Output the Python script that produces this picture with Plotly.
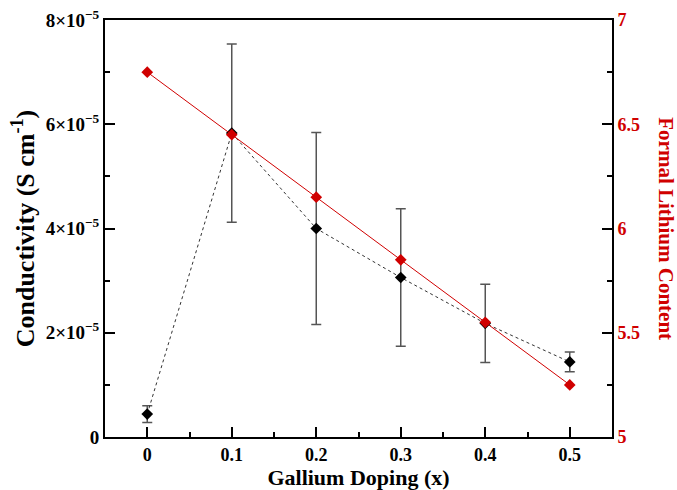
import plotly.graph_objects as go

x_doping = [0, 0.1, 0.2, 0.3, 0.4, 0.5]
conductivity = [0.44e-5, 5.83e-5, 4.0e-5, 3.06e-5, 2.18e-5, 1.44e-5]
conductivity_err = [0.16e-5, 1.71e-5, 1.84e-5, 1.32e-5, 0.75e-5, 0.19e-5]
lithium_content = [6.75, 6.45, 6.15, 5.85, 5.55, 5.25]

y_tickvals = [0, 2e-5, 4e-5, 6e-5, 8e-5]
y_ticktext = ["0", "2×10<sup>−5</sup>", "4×10<sup>−5</sup>", "6×10<sup>−5</sup>", "8×10<sup>−5</sup>"]
x_tickvals = [0, 0.1, 0.2, 0.3, 0.4, 0.5]
x_ticktext = ["0", "0.1", "0.2", "0.3", "0.4", "0.5"]

FONT = "Liberation Serif"
RED = "#d00000"

fig = go.Figure()
fig.add_trace(go.Scatter(
    x=x_doping, y=conductivity, mode="lines+markers",
    line=dict(color="#333333", width=1, dash="dot"),
    marker=dict(symbol="diamond", size=9, color="black"),
    error_y=dict(type="data", array=conductivity_err, visible=True,
                 color="#555555", thickness=1.5, width=5),
    yaxis="y", showlegend=False,
))
fig.add_trace(go.Scatter(
    x=x_doping, y=lithium_content, mode="lines+markers",
    line=dict(color=RED, width=1),
    marker=dict(symbol="diamond", size=9, color=RED),
    yaxis="y2", showlegend=False,
))

fig.update_layout(
    width=677, height=490,
    margin=dict(l=105, r=65, t=20, b=53, autoexpand=False),
    paper_bgcolor="white", plot_bgcolor="white",
    font=dict(family=FONT, color="black"),
    xaxis=dict(
        range=[-0.05, 0.55], tickvals=x_tickvals, ticktext=x_ticktext,
        ticks="inside", ticklen=10, tickwidth=1.5, tickcolor="black",
        minor=dict(ticks="inside", ticklen=5, tickwidth=1.5, dtick=0.05, tick0=0, tickcolor="black"),
        showline=True, linecolor="black", linewidth=2, mirror=True,
        showgrid=False, zeroline=False, automargin=False,
        tickfont=dict(family=FONT, size=18, color="black", weight="bold"),
        title=dict(text="Gallium Doping (x)", font=dict(family=FONT, size=22, color="black", weight="bold"), standoff=4),
    ),
    yaxis=dict(
        range=[0, 8e-5], tickvals=y_tickvals, ticktext=y_ticktext,
        ticks="inside", ticklen=10, tickwidth=1.5, tickcolor="black",
        minor=dict(ticks="inside", ticklen=5, tickwidth=1.5, dtick=1e-5, tick0=0, tickcolor="black"),
        showline=True, linecolor="black", linewidth=2,
        showgrid=False, zeroline=False, automargin=False,
        tickfont=dict(family=FONT, size=19, color="black", weight="bold"),
        title=dict(text="Conductivity (S cm<sup>-1</sup>)", font=dict(family=FONT, size=26, color="black", weight="bold"), standoff=4),
    ),
    yaxis2=dict(
        range=[5, 7], dtick=0.5, overlaying="y", side="right",
        ticks="inside", ticklen=10, tickwidth=1.5, tickcolor="black",
        minor=dict(ticks="inside", ticklen=5, tickwidth=1.5, dtick=0.25, tick0=5, tickcolor="black"),
        showline=True, linecolor="black", linewidth=2,
        showgrid=False, zeroline=False, automargin=False,
        tickfont=dict(family=FONT, size=18, color=RED, weight="bold"),
    ),
    annotations=[dict(
        text="Formal Lithium Content", textangle=90,
        xref="paper", yref="paper", x=1.107, y=0.5, xanchor="center", yanchor="middle",
        showarrow=False, font=dict(family=FONT, size=21, color=RED, weight="bold"),
    )],
)

fig.write_html("out.html")
